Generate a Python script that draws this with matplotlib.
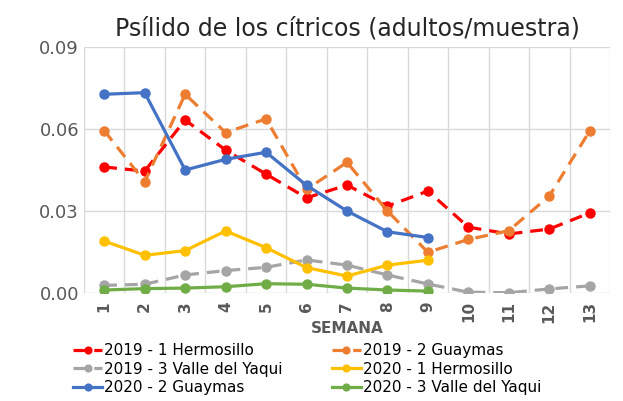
import numpy as np
import matplotlib.pyplot as plt

# Datos (adultos/muestra por semana)
semanas = list(range(1, 14))
hmo_2019 = [0.0461, 0.0446, 0.0633, 0.0523, 0.0435, 0.0348, 0.0395, 0.0318, 0.0373, 0.0241, 0.0216, 0.0234, 0.0293]
gym_2019 = [0.0594, 0.0407, 0.0727, 0.0587, 0.0637, 0.0379, 0.0478, 0.0300, 0.0149, 0.0196, 0.0228, 0.0355, 0.0593]
vy_2019 = [0.0028, 0.0032, 0.0066, 0.0082, 0.0094, 0.0121, 0.0102, 0.0066, 0.0033, 0.0003, 0.0001, 0.0015, 0.0026]
hmo_2020 = [0.0190, 0.0138, 0.0155, 0.0227, 0.0166, 0.0093, 0.0062, 0.0102, 0.0120]
gym_2020 = [0.0727, 0.0733, 0.0450, 0.0489, 0.0515, 0.0394, 0.0300, 0.0224, 0.0203]
vy_2020 = [0.0011, 0.0016, 0.0018, 0.0023, 0.0034, 0.0032, 0.0018, 0.0011, 0.0007]

fig = plt.figure(figsize=(6.23, 4.01), dpi=100)
ax = fig.add_axes([0.1348, 0.2693, 0.8443, 0.6135])

lw = 2.3
ms = 6.5
l1, = ax.plot(semanas, hmo_2019, '--o', color='#FF0000', lw=lw, ms=ms, dashes=(4, 2.5), label='2019 - 1 Hermosillo')
l2, = ax.plot(semanas, gym_2019, '--o', color='#ED7D31', lw=lw, ms=ms, dashes=(4, 2.5), label='2019 - 2 Guaymas')
l3, = ax.plot(semanas, vy_2019, '--o', color='#A5A5A5', lw=lw, ms=ms, dashes=(4, 2.5), label='2019 - 3 Valle del Yaqui')
l4, = ax.plot(semanas[:9], hmo_2020, '-o', color='#FFC000', lw=lw, ms=ms, label='2020 - 1 Hermosillo')
l5, = ax.plot(semanas[:9], gym_2020, '-o', color='#4472C4', lw=lw, ms=ms, label='2020 - 2 Guaymas')
l6, = ax.plot(semanas[:9], vy_2020, '-o', color='#70AD47', lw=lw, ms=ms, label='2020 - 3 Valle del Yaqui')

ax.set_xlim(0.5, 13.5)
ax.set_ylim(0, 0.09)
ax.set_yticks([0, 0.03, 0.06, 0.09])
ax.set_yticklabels(['0.00', '0.03', '0.06', '0.09'], fontsize=13, color='#595959')
ax.set_xticks(semanas)
ax.set_xticklabels([str(s) for s in semanas], rotation=90, fontsize=11, color='#595959', fontweight='bold')
ax.set_xticks(np.arange(0.5, 14, 1), minor=True)
ax.tick_params(axis='both', which='both', length=0)
ax.tick_params(axis='x', pad=6)
ax.grid(axis='y', color='#D9D9D9', lw=1)
ax.grid(axis='x', which='minor', color='#D9D9D9', lw=1)
for s in ax.spines.values():
    s.set_visible(False)
ax.set_axisbelow(True)

ax.set_xlabel('SEMANA', fontsize=11, fontweight='bold', color='#595959', labelpad=-1)
ax.set_title('Psílido de los cítricos (adultos/muestra)', fontsize=17, color='#262626', pad=8)

# orden por filas como en Excel
handles = [l1, l3, l5, l2, l4, l6]
fig.legend(handles=handles, labels=[h.get_label() for h in handles],
           loc='lower left', bbox_to_anchor=(0.1, -0.012), ncol=2, frameon=False,
           fontsize=11, handlelength=1.9, handletextpad=0.15, columnspacing=3.2,
           labelspacing=0.22, borderaxespad=0.3, markerscale=0.75)

plt.savefig('out.png', dpi=100)
